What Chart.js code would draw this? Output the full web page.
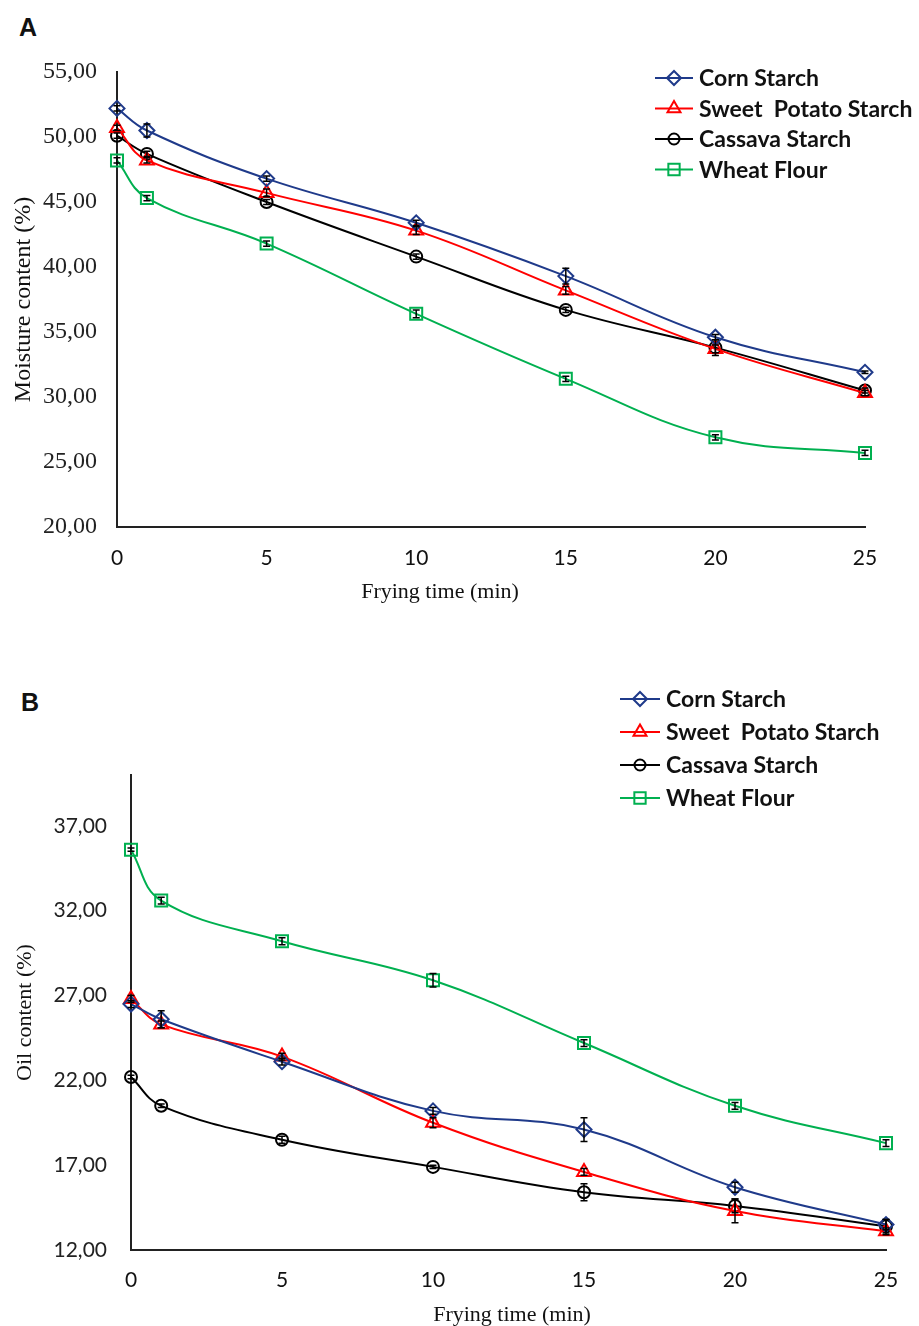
<!DOCTYPE html>
<html>
<head>
<meta charset="utf-8">
<script src="https://cdn.jsdelivr.net/npm/chart.js@4.4.1/dist/chart.umd.min.js"></script>
<style>
  body { margin: 0; background: #fff; width: 919px; height: 1326px; position: relative; overflow: hidden; }
  canvas { position: absolute; left: 0; }
  .panel { position: absolute; font: bold 25px Arial, "Liberation Sans", sans-serif; color: #111; }
</style>
</head>
<body>
<div class="panel" style="left:19px; top:13px;">A</div>
<div class="panel" style="left:21px; top:688px;">B</div>
<canvas id="moisture" width="919" height="640" style="top:0"></canvas>
<canvas id="oil" width="919" height="676" style="top:650px"></canvas>
<script>
// frying time (min)
const time = [0, 1, 5, 10, 15, 20, 25];
const xTicks = [0, 5, 10, 15, 20, 25];

// A - moisture content (%)
const moistureCorn = [52.2, 50.5, 46.8, 43.4, 39.3, 34.6, 31.9];
const moistureSweet = [50.7, 48.2, 45.7, 42.8, 38.2, 33.7, 30.3];
const moistureCassava = [50.1, 48.7, 45.0, 40.8, 36.7, 33.8, 30.5];
const moistureWheat = [48.2, 45.3, 41.8, 36.4, 31.4, 26.9, 25.7];
const moistureCornErr = [0.2, 0.5, 0.2, 0.2, 0.6, 0.2, 0.1];
const moistureSweetErr = [0.2, 0.2, 0.3, 0.3, 0.3, 0.3, 0.2];
const moistureCassavaErr = [0.2, 0.2, 0.2, 0.2, 0.2, 0.6, 0.2];
const moistureWheatErr = [0.2, 0.2, 0.2, 0.3, 0.2, 0.2, 0.2];
const yTicksA = [20, 25, 30, 35, 40, 45, 50, 55];

// B - oil content (%)
const oilCorn = [26.5, 25.6, 23.1, 20.2, 19.1, 15.7, 13.5];
const oilSweet = [26.8, 25.3, 23.4, 19.5, 16.6, 14.3, 13.1];
const oilCassava = [22.2, 20.5, 18.5, 16.9, 15.4, 14.6, 13.4];
const oilWheat = [35.6, 32.6, 30.2, 27.9, 24.2, 20.5, 18.3];
const oilCornErr = [0.2, 0.5, 0.2, 0.2, 0.7, 0.3, 0.3];
const oilSweetErr = [0.2, 0.2, 0.2, 0.3, 0.2, 0.7, 0.2];
const oilCassavaErr = [0.1, 0.1, 0.2, 0.1, 0.5, 0.4, 0.4];
const oilWheatErr = [0.1, 0.2, 0.2, 0.4, 0.2, 0.2, 0.2];
const yTicksB = [12, 17, 22, 27, 32, 37];

const seriesNames = ['Corn Starch', 'Sweet  Potato Starch', 'Cassava Starch', 'Wheat Flour'];
const xTitle = 'Frying time (min)';

const styles = [
    { color: '#1f3a8a', pointStyle: 'rectRot', radius: 7.5 },
    { color: '#ff0000', pointStyle: 'triangle', radius: 8 },
    { color: '#000000', pointStyle: 'circle', radius: 6 },
    { color: '#00b050', pointStyle: 'rect', radius: 8.5 }
];

function makeDatasets(values, errors) {
    return values.map((vals, i) => ({
        label: seriesNames[i],
        data: vals.map((v, j) => ({ x: time[j], y: v })),
        err: errors[i],
        borderColor: styles[i].color,
        backgroundColor: 'rgba(0,0,0,0)',
        borderWidth: 2,
        pointStyle: styles[i].pointStyle,
        pointRadius: styles[i].radius,
        pointBorderWidth: 2,
        pointBorderColor: styles[i].color,
        pointBackgroundColor: 'rgba(0,0,0,0)',
        tension: 0.4,
        clip: false
    }));
}

const comma = v => Number(v).toFixed(2).replace('.', ',');

// error bars drawn through the scales
const errorBars = {
    id: 'errorBars',
    afterDatasetsDraw(chart) {
        const ctx = chart.ctx;
        const ys = chart.scales.y;
        ctx.save();
        ctx.strokeStyle = '#000';
        ctx.lineWidth = 1.5;
        chart.data.datasets.forEach((ds, i) => {
            const meta = chart.getDatasetMeta(i);
            meta.data.forEach((pt, j) => {
                const e = ds.err[j];
                const v = ds.data[j].y;
                const top = ys.getPixelForValue(v + e);
                const bot = ys.getPixelForValue(v - e);
                ctx.beginPath();
                ctx.moveTo(pt.x, top); ctx.lineTo(pt.x, bot);
                ctx.moveTo(pt.x - 3.5, top); ctx.lineTo(pt.x + 3.5, top);
                ctx.moveTo(pt.x - 3.5, bot); ctx.lineTo(pt.x + 3.5, bot);
                ctx.stroke();
            });
        });
        ctx.restore();
    }
};

// legend: line with marker in the middle, like the spreadsheet one
const lineLegend = {
    id: 'lineLegend',
    afterDraw(chart, args, opts) {
        const ctx = chart.ctx;
        ctx.save();
        chart.data.datasets.forEach((ds, i) => {
            const y = opts.y + i * opts.gap;
            ctx.strokeStyle = ds.borderColor;
            ctx.lineWidth = 2;
            ctx.beginPath();
            ctx.moveTo(opts.x, y); ctx.lineTo(opts.x + opts.len, y);
            ctx.stroke();
            ctx.fillStyle = 'rgba(0,0,0,0)';
            Chart.helpers.drawPoint(ctx, {
                pointStyle: ds.pointStyle, radius: ds.pointRadius - 0.5,
                rotation: 0, borderWidth: 2
            }, opts.x + opts.len / 2, y);
            ctx.fillStyle = '#111';
            ctx.font = 'bold 23px Lato, "Open Sans", sans-serif';
            ctx.textBaseline = 'middle';
            ctx.textAlign = 'left';
            ctx.fillText(ds.label, opts.x + opts.len + 6, y + 1);
        });
        ctx.restore();
    }
};

// x axis title, placed where the original figure has it
const bottomTitle = {
    id: 'bottomTitle',
    afterDraw(chart, args, opts) {
        const ctx = chart.ctx;
        ctx.save();
        ctx.fillStyle = '#111';
        ctx.font = '22px "Liberation Serif", "Times New Roman", serif';
        ctx.textAlign = 'center';
        ctx.textBaseline = 'middle';
        ctx.fillText(xTitle, opts.x, opts.y);
        ctx.restore();
    }
};

function makeChart(id, cfg) {
    return new Chart(document.getElementById(id), {
        type: 'line',
        data: { datasets: makeDatasets(cfg.values, cfg.errors) },
        options: {
            responsive: false,
            animation: false,
            devicePixelRatio: 1,
            layout: { padding: cfg.padding },
            plugins: {
                legend: { display: false },
                tooltip: { enabled: false },
                lineLegend: cfg.legend,
                bottomTitle: cfg.xTitlePos
            },
            scales: {
                x: {
                    type: 'linear',
                    min: 0,
                    max: 25,
                    grid: { display: false, drawTicks: false },
                    border: { display: true, color: '#222', width: 2 },
                    afterBuildTicks: s => { s.ticks = xTicks.map(v => ({ value: v })); },
                    afterFit: s => { s.height = cfg.xHeight; },
                    ticks: {
                        color: '#111',
                        padding: cfg.xTickPad,
                        maxRotation: 0,
                        font: { family: 'Lato, "Open Sans", sans-serif', size: 21 }
                    },
                    title: { display: false }
                },
                y: {
                    min: cfg.yMin,
                    max: cfg.yMax,
                    grid: { display: false, drawTicks: false },
                    border: { display: true, color: '#222', width: 2 },
                    afterBuildTicks: s => { s.ticks = cfg.yTicks.map(v => ({ value: v })); },
                    afterFit: s => { s.width = cfg.yWidth; },
                    ticks: {
                        color: '#222',
                        padding: cfg.yTickPad,
                        callback: comma,
                        font: cfg.yTickFont
                    },
                    title: {
                        display: true,
                        text: cfg.yTitle,
                        color: '#111',
                        padding: { top: cfg.yTitlePad, bottom: 0 },
                        font: { family: '"Liberation Serif", "Times New Roman", serif', size: cfg.yTitleSize, lineHeight: 1 }
                    }
                }
            }
        },
        plugins: [errorBars, lineLegend, bottomTitle]
    });
}

makeChart('moisture', {
    values: [moistureCorn, moistureSweet, moistureCassava, moistureWheat],
    errors: [moistureCornErr, moistureSweetErr, moistureCassavaErr, moistureWheatErr],
    padding: { left: 0, top: 72, right: 54, bottom: 0 },
    xHeight: 113, yWidth: 117,
    xTickPad: 19,
    xTitlePos: { x: 440, y: 592 },
    yMin: 20, yMax: 55, yTicks: yTicksA,
    yTickPad: 20,
    yTickFont: { family: '"Liberation Serif", "Times New Roman", serif', size: 24 },
    yTitle: 'Moisture content (%)', yTitleSize: 24, yTitlePad: 12,
    legend: { x: 655, y: 78, gap: 30.5, len: 38 }
});

makeChart('oil', {
    values: [oilCorn, oilSweet, oilCassava, oilWheat],
    errors: [oilCornErr, oilSweetErr, oilCassavaErr, oilWheatErr],
    padding: { left: 0, top: 125, right: 33, bottom: 0 },
    xHeight: 76, yWidth: 131,
    xTickPad: 18,
    xTitlePos: { x: 512, y: 665 },
    yMin: 12, yMax: 40, yTicks: yTicksB,
    yTickPad: 24,
    yTickFont: { family: 'Lato, "Open Sans", sans-serif', size: 21 },
    yTitle: 'Oil content (%)', yTitleSize: 22, yTitlePad: 14,
    legend: { x: 620, y: 49, gap: 33, len: 40 }
});
</script>
</body>
</html>
